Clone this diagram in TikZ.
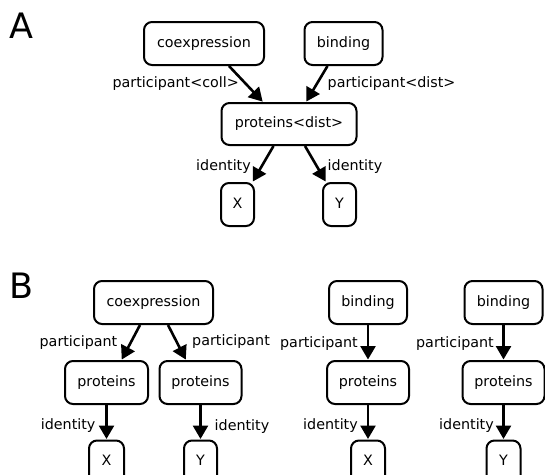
\documentclass[tikz,border=0pt]{standalone}
\usepackage{fontspec}
\setmainfont{DejaVu Sans}
\usetikzlibrary{arrows.meta}
\tikzset{
  box/.style={draw, line width=2pt, rounded corners=8pt, inner sep=0pt,
    font=\fontsize{14.3pt}{17pt}\selectfont, text height=10.9pt, text depth=3.4pt},
  lbl/.style={inner sep=0pt, font=\fontsize{14.3pt}{17pt}\selectfont,
    text height=10.9pt, text depth=3.4pt},
  panel/.style={inner sep=0pt, font=\fontsize{35pt}{40pt}\selectfont,
    text height=25.5pt, text depth=0pt},
  arr/.style={line width=2.6pt, -{Triangle[length=13.5pt,width=15pt]}, shorten >=0.5pt}
}
\begin{document}
\begin{tikzpicture}[x=1pt, y=-1pt]
\useasboundingbox (0,0) rectangle (545,474);
\clip (0,0) rectangle (545,474);
% ---------- Panel A ----------
\node[panel] (pA) at (21,25.5) {A};
\node[box, minimum width=120pt, minimum height=43pt] (acoex) at (204,43.5) {coexpression};
\node[box, minimum width=78pt, minimum height=43pt] (abind) at (343.5,43.5) {binding};
\node[box, minimum width=135pt, minimum height=42pt] (aprot) at (289,124) {proteins<dist>};
\node[box, minimum width=33pt, minimum height=43pt] (aX) at (237.5,204.5) {X};
\node[box, minimum width=33pt, minimum height=43pt] (aY) at (339.5,204.5) {Y};
\draw[arr] ([xshift=25pt]acoex.south) -- ([xshift=-26pt]aprot.north);
\draw[arr] ([xshift=-16pt]abind.south) -- ([xshift=17pt]aprot.north);
\draw[arr] ([xshift=-15.5pt]aprot.south) -- ([xshift=15pt]aX.north);
\draw[arr] ([xshift=16pt]aprot.south) -- ([xshift=-13.5pt]aY.north);
\node[lbl, anchor=east] (al1) at (239,83.5) {participant<coll>};
\node[lbl, anchor=west] (al2) at (327.5,83.5) {participant<dist>};
\node[lbl, anchor=east] (al3) at (251,167) {identity};
\node[lbl, anchor=west] (al4) at (327.5,167) {identity};
% ---------- Panel B ----------
\node[panel] (pB) at (21.5,286) {B};
\node[box, minimum width=119pt, minimum height=43pt] (bcoex) at (153.5,302.5) {coexpression};
\node[box, minimum width=78pt, minimum height=43pt] (bbind1) at (368,302.5) {binding};
\node[box, minimum width=78pt, minimum height=43pt] (bbind2) at (503.5,302.5) {binding};
\node[box, minimum width=83pt, minimum height=43pt] (bp1) at (106.5,382.5) {proteins};
\node[box, minimum width=82pt, minimum height=43pt] (bp2) at (200.5,382.5) {proteins};
\node[box, minimum width=82pt, minimum height=43pt] (bp3) at (368,382.5) {proteins};
\node[box, minimum width=82pt, minimum height=43pt] (bp4) at (503.5,382.5) {proteins};
\node[box, minimum width=35pt, minimum height=43pt] (bX1) at (106.5,462) {X};
\node[box, minimum width=33pt, minimum height=43pt] (bY2) at (200.5,462) {Y};
\node[box, minimum width=34pt, minimum height=43pt] (bX3) at (368,462) {X};
\node[box, minimum width=34pt, minimum height=43pt] (bY4) at (503.5,462) {Y};
\draw[arr] ([xshift=-13.5pt]bcoex.south) -- ([xshift=15pt]bp1.north);
\draw[arr] ([xshift=14.5pt]bcoex.south) -- ([xshift=-14.5pt]bp2.north);
\draw[arr] (bbind1.south) -- (bp3.north);
\draw[arr] (bbind2.south) -- (bp4.north);
\draw[arr] (bp1.south) -- (bX1.north);
\draw[arr] (bp2.south) -- (bY2.north);
\draw[arr] (bp3.south) -- (bX3.north);
\draw[arr] (bp4.south) -- (bY4.north);
\node[lbl, anchor=east] (bl1) at (117.5,343) {participant};
\node[lbl, anchor=west] (bl2) at (192,341.5) {participant};
\node[lbl, anchor=east] (bl3) at (358,343.5) {participant};
\node[lbl, anchor=east] (bl4) at (494,343.5) {participant};
\node[lbl, anchor=east] (bl5) at (95.6,426) {identity};
\node[lbl, anchor=west] (bl6) at (214.5,427) {identity};
\node[lbl, anchor=east] (bl7) at (358,426) {identity};
\node[lbl, anchor=east] (bl8) at (494,426) {identity};
\end{tikzpicture}
\end{document}
